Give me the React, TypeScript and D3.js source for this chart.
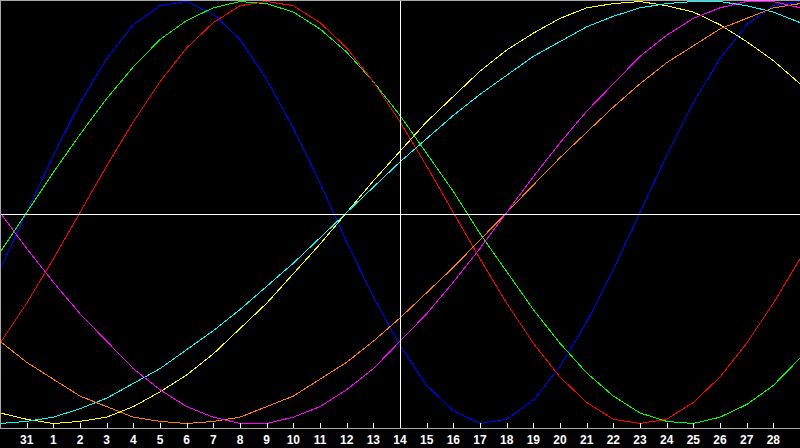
import * as d3 from "d3"

// day labels along the bottom; the first and last points (30 / 1) sit on the edges without a label
const days = ["30", "31", "1", "2", "3", "4", "5", "6", "7", "8", "9", "10", "11", "12", "13", "14", "15", "16", "17", "18", "19", "20", "21", "22", "23", "24", "25", "26", "27", "28", "1"]
const todayIndex = 15

// curve values, one per day (-1 .. 1)
const blue = [-0.27, 0, 0.27, 0.52, 0.73, 0.89, 0.98, 1.0, 0.94, 0.82, 0.63, 0.4, 0.14, -0.14, -0.4, -0.63, -0.82, -0.94, -1.0, -0.98, -0.89, -0.73, -0.52, -0.27, 0, 0.27, 0.52, 0.73, 0.89, 0.98, 1.0]
const green = [-0.19, 0, 0.19, 0.37, 0.54, 0.69, 0.82, 0.91, 0.97, 1.0, 0.99, 0.95, 0.87, 0.76, 0.62, 0.46, 0.28, 0.1, -0.1, -0.28, -0.46, -0.62, -0.76, -0.87, -0.95, -0.99, -1.0, -0.97, -0.91, -0.82, -0.69]
const red = [-0.62, -0.43, -0.22, 0, 0.22, 0.43, 0.62, 0.78, 0.9, 0.98, 1.0, 0.98, 0.9, 0.78, 0.62, 0.43, 0.22, 0, -0.22, -0.43, -0.62, -0.78, -0.9, -0.98, -1.0, -0.98, -0.9, -0.78, -0.62, -0.43, -0.22]
const yellow = [-0.95, -0.98, -1.0, -0.99, -0.97, -0.92, -0.85, -0.77, -0.67, -0.55, -0.43, -0.29, -0.15, 0, 0.15, 0.29, 0.43, 0.55, 0.67, 0.77, 0.85, 0.92, 0.97, 0.99, 1.0, 0.98, 0.95, 0.89, 0.81, 0.72, 0.61]
const cyan = [-1.0, -0.99, -0.97, -0.93, -0.88, -0.81, -0.74, -0.65, -0.56, -0.46, -0.35, -0.24, -0.12, 0, 0.12, 0.24, 0.35, 0.46, 0.56, 0.65, 0.74, 0.81, 0.88, 0.93, 0.97, 0.99, 1.0, 1.0, 0.98, 0.95, 0.9]
const orange = [-0.61, -0.71, -0.79, -0.87, -0.92, -0.97, -0.99, -1.0, -0.99, -0.97, -0.92, -0.87, -0.79, -0.71, -0.61, -0.5, -0.38, -0.26, -0.13, 0, 0.13, 0.26, 0.38, 0.5, 0.61, 0.71, 0.79, 0.87, 0.92, 0.97, 0.99]
const magenta = [0, -0.17, -0.33, -0.48, -0.61, -0.74, -0.84, -0.92, -0.97, -1.0, -1.0, -0.97, -0.92, -0.84, -0.74, -0.61, -0.48, -0.33, -0.17, 0, 0.17, 0.33, 0.48, 0.61, 0.74, 0.84, 0.92, 0.97, 1.0, 1.0, 0.97]

const series = [
  { color: "#0000ff", values: blue },
  { color: "#00ff00", values: green },
  { color: "#ff0000", values: red },
  { color: "#ffff00", values: yellow },
  { color: "#00ffff", values: cyan },
  { color: "#ff8000", values: orange },
  { color: "#ff00ff", values: magenta },
]

const W = 800
const H = 448
const axisY = 428

export default function App() {
  const x = d3.scaleLinear().domain([0, days.length - 1]).range([0, W])
  const y = d3.scaleLinear().domain([-1, 1]).range([423.5, 1.5])

  const line = d3
    .line<number>()
    .x((_, i) => x(i))
    .y((d) => y(d))

  const zeroY = Math.round(y(0)) + 1.5
  const todayX = Math.round(x(todayIndex)) + 0.5
  const tickIdx = d3.range(1, days.length - 1)

  return (
    <svg
      width={W}
      height={H}
      style={{ position: "absolute", left: 0, top: 0, display: "block", background: "#000" }}
    >
      <rect width={W} height={H} fill="#000" />
      {series.map((s) => (
        <path
          key={s.color}
          d={line(s.values) ?? ""}
          fill="none"
          stroke={s.color}
          strokeWidth={1}
          shapeRendering="crispEdges"
        />
      ))}
      {/* crosshair: zero line and today */}
      <line x1={0} x2={W} y1={zeroY} y2={zeroY} stroke="#fff" strokeWidth={1} shapeRendering="crispEdges" />
      <line x1={todayX} x2={todayX} y1={0} y2={axisY} stroke="#fff" strokeWidth={1} shapeRendering="crispEdges" />
      {/* frame */}
      <line x1={0} x2={W} y1={0.5} y2={0.5} stroke="#a8a8a8" shapeRendering="crispEdges" />
      <line x1={0.5} x2={0.5} y1={0} y2={axisY} stroke="#a8a8a8" shapeRendering="crispEdges" />
      <line x1={0} x2={W} y1={axisY + 0.5} y2={axisY + 0.5} stroke="#a8a8a8" shapeRendering="crispEdges" />
      {tickIdx.map((i) => {
        const tx = Math.round(x(i)) + 0.5
        return (
          <g key={i}>
            <line x1={tx} x2={tx} y1={axisY - 5} y2={axisY} stroke="#fff" shapeRendering="crispEdges" />
            <text
              x={x(i)}
              y={443.5}
              fill="#fff"
              textAnchor="middle"
              fontFamily="'Liberation Sans', Arial, sans-serif"
              fontWeight="bold"
              fontSize={12}
            >
              {days[i]}
            </text>
          </g>
        )
      })}
    </svg>
  )
}
